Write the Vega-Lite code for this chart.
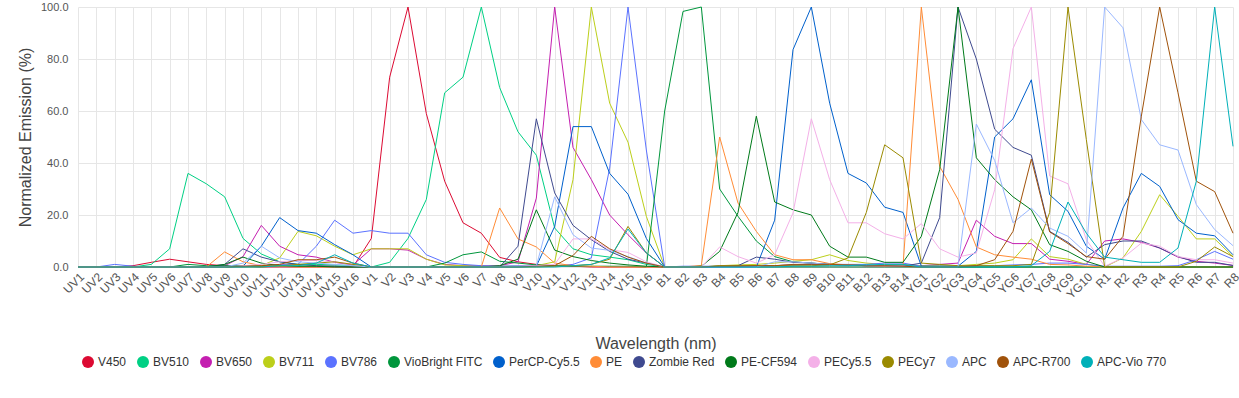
{
"$schema": "https://vega.github.io/schema/vega-lite/v6.json",
"width": 1155, "height": 260,
"autosize": "none",
"padding": {"left": 78, "top": 7, "right": 6, "bottom": 131},
"background": "white",
"config": {"view": {"stroke": null}, "font": "Liberation Sans"},
"data": {"values": [
{"c":"UV1","d":"V450","v":0},{"c":"UV2","d":"V450","v":0},{"c":"UV3","d":"V450","v":0},{"c":"UV4","d":"V450","v":0.5},{"c":"UV5","d":"V450","v":1.8},{"c":"UV6","d":"V450","v":3},{"c":"UV7","d":"V450","v":2},{"c":"UV8","d":"V450","v":1},{"c":"UV9","d":"V450","v":0.5},{"c":"UV10","d":"V450","v":0.3},{"c":"UV11","d":"V450","v":0},{"c":"UV12","d":"V450","v":0},{"c":"UV13","d":"V450","v":0},{"c":"UV14","d":"V450","v":0},{"c":"UV15","d":"V450","v":0},{"c":"UV16","d":"V450","v":0},
{"c":"V1","d":"V450","v":11},{"c":"V2","d":"V450","v":73},{"c":"V3","d":"V450","v":100},{"c":"V4","d":"V450","v":59},{"c":"V5","d":"V450","v":33},{"c":"V6","d":"V450","v":17},{"c":"V7","d":"V450","v":13},{"c":"V8","d":"V450","v":3.7},{"c":"V9","d":"V450","v":2},{"c":"V10","d":"V450","v":1},{"c":"V11","d":"V450","v":0.5},{"c":"V12","d":"V450","v":0.3},{"c":"V13","d":"V450","v":0},{"c":"V14","d":"V450","v":0},{"c":"V15","d":"V450","v":0},{"c":"V16","d":"V450","v":0},
{"c":"B1","d":"V450","v":0},{"c":"B2","d":"V450","v":0},{"c":"B3","d":"V450","v":0},{"c":"B4","d":"V450","v":0},{"c":"B5","d":"V450","v":0},{"c":"B6","d":"V450","v":0},{"c":"B7","d":"V450","v":0},{"c":"B8","d":"V450","v":0},{"c":"B9","d":"V450","v":0},{"c":"B10","d":"V450","v":0},{"c":"B11","d":"V450","v":0},{"c":"B12","d":"V450","v":0},{"c":"B13","d":"V450","v":0},{"c":"B14","d":"V450","v":0},
{"c":"YG1","d":"V450","v":0},{"c":"YG2","d":"V450","v":0},{"c":"YG3","d":"V450","v":0},{"c":"YG4","d":"V450","v":0},{"c":"YG5","d":"V450","v":0},{"c":"YG6","d":"V450","v":0},{"c":"YG7","d":"V450","v":0},{"c":"YG8","d":"V450","v":0},{"c":"YG9","d":"V450","v":0},{"c":"YG10","d":"V450","v":0},
{"c":"R1","d":"V450","v":0},{"c":"R2","d":"V450","v":0},{"c":"R3","d":"V450","v":0},{"c":"R4","d":"V450","v":0},{"c":"R5","d":"V450","v":0},{"c":"R6","d":"V450","v":0},{"c":"R7","d":"V450","v":0},{"c":"R8","d":"V450","v":0},

{"c":"UV1","d":"BV510","v":0},{"c":"UV2","d":"BV510","v":0},{"c":"UV3","d":"BV510","v":0},{"c":"UV4","d":"BV510","v":0},{"c":"UV5","d":"BV510","v":1},{"c":"UV6","d":"BV510","v":7},{"c":"UV7","d":"BV510","v":36},{"c":"UV8","d":"BV510","v":32},{"c":"UV9","d":"BV510","v":27},{"c":"UV10","d":"BV510","v":11},{"c":"UV11","d":"BV510","v":5},{"c":"UV12","d":"BV510","v":2},{"c":"UV13","d":"BV510","v":1},{"c":"UV14","d":"BV510","v":1},{"c":"UV15","d":"BV510","v":0.8},{"c":"UV16","d":"BV510","v":0.5},
{"c":"V1","d":"BV510","v":0},{"c":"V2","d":"BV510","v":1.8},{"c":"V3","d":"BV510","v":11},{"c":"V4","d":"BV510","v":26},{"c":"V5","d":"BV510","v":67},{"c":"V6","d":"BV510","v":73},{"c":"V7","d":"BV510","v":100},{"c":"V8","d":"BV510","v":69},{"c":"V9","d":"BV510","v":52},{"c":"V10","d":"BV510","v":43},{"c":"V11","d":"BV510","v":15},{"c":"V12","d":"BV510","v":7},{"c":"V13","d":"BV510","v":4.7},{"c":"V14","d":"BV510","v":3.8},{"c":"V15","d":"BV510","v":2.8},{"c":"V16","d":"BV510","v":1},
{"c":"B1","d":"BV510","v":0},{"c":"B2","d":"BV510","v":0},{"c":"B3","d":"BV510","v":0},{"c":"B4","d":"BV510","v":0},{"c":"B5","d":"BV510","v":0},{"c":"B6","d":"BV510","v":0},{"c":"B7","d":"BV510","v":0},{"c":"B8","d":"BV510","v":0},{"c":"B9","d":"BV510","v":0},{"c":"B10","d":"BV510","v":0},{"c":"B11","d":"BV510","v":0},{"c":"B12","d":"BV510","v":0},{"c":"B13","d":"BV510","v":0},{"c":"B14","d":"BV510","v":0},
{"c":"YG1","d":"BV510","v":0},{"c":"YG2","d":"BV510","v":0},{"c":"YG3","d":"BV510","v":0},{"c":"YG4","d":"BV510","v":0},{"c":"YG5","d":"BV510","v":0},{"c":"YG6","d":"BV510","v":0},{"c":"YG7","d":"BV510","v":0},{"c":"YG8","d":"BV510","v":0},{"c":"YG9","d":"BV510","v":0},{"c":"YG10","d":"BV510","v":0},
{"c":"R1","d":"BV510","v":0},{"c":"R2","d":"BV510","v":0},{"c":"R3","d":"BV510","v":0},{"c":"R4","d":"BV510","v":0},{"c":"R5","d":"BV510","v":0},{"c":"R6","d":"BV510","v":0},{"c":"R7","d":"BV510","v":0},{"c":"R8","d":"BV510","v":0},

{"c":"UV1","d":"BV650","v":0},{"c":"UV2","d":"BV650","v":0},{"c":"UV3","d":"BV650","v":0},{"c":"UV4","d":"BV650","v":0},{"c":"UV5","d":"BV650","v":0},{"c":"UV6","d":"BV650","v":0},{"c":"UV7","d":"BV650","v":0},{"c":"UV8","d":"BV650","v":0},{"c":"UV9","d":"BV650","v":0.5},{"c":"UV10","d":"BV650","v":4},{"c":"UV11","d":"BV650","v":16},{"c":"UV12","d":"BV650","v":8},{"c":"UV13","d":"BV650","v":4.7},{"c":"UV14","d":"BV650","v":3.8},{"c":"UV15","d":"BV650","v":1.8},{"c":"UV16","d":"BV650","v":0.8},
{"c":"V1","d":"BV650","v":7},{"c":"V2","d":"BV650","v":7},{"c":"V3","d":"BV650","v":6.5},{"c":"V4","d":"BV650","v":3},{"c":"V5","d":"BV650","v":1},{"c":"V6","d":"BV650","v":0.5},{"c":"V7","d":"BV650","v":0.5},{"c":"V8","d":"BV650","v":0.5},{"c":"V9","d":"BV650","v":2},{"c":"V10","d":"BV650","v":26.5},{"c":"V11","d":"BV650","v":100},{"c":"V12","d":"BV650","v":46},{"c":"V13","d":"BV650","v":33.6},{"c":"V14","d":"BV650","v":20},{"c":"V15","d":"BV650","v":12.4},{"c":"V16","d":"BV650","v":5.4},
{"c":"B1","d":"BV650","v":0},{"c":"B2","d":"BV650","v":0},{"c":"B3","d":"BV650","v":0},{"c":"B4","d":"BV650","v":0.3},{"c":"B5","d":"BV650","v":0.5},{"c":"B6","d":"BV650","v":0.5},{"c":"B7","d":"BV650","v":0.5},{"c":"B8","d":"BV650","v":0.8},{"c":"B9","d":"BV650","v":1},{"c":"B10","d":"BV650","v":1},{"c":"B11","d":"BV650","v":0.8},{"c":"B12","d":"BV650","v":0.5},{"c":"B13","d":"BV650","v":0.5},{"c":"B14","d":"BV650","v":0.3},
{"c":"YG1","d":"BV650","v":0.5},{"c":"YG2","d":"BV650","v":1},{"c":"YG3","d":"BV650","v":1.5},{"c":"YG4","d":"BV650","v":18},{"c":"YG5","d":"BV650","v":11.8},{"c":"YG6","d":"BV650","v":9},{"c":"YG7","d":"BV650","v":9},{"c":"YG8","d":"BV650","v":3},{"c":"YG9","d":"BV650","v":2.2},{"c":"YG10","d":"BV650","v":1},
{"c":"R1","d":"BV650","v":10},{"c":"R2","d":"BV650","v":10.8},{"c":"R3","d":"BV650","v":9.5},{"c":"R4","d":"BV650","v":7.3},{"c":"R5","d":"BV650","v":3.8},{"c":"R6","d":"BV650","v":2.2},{"c":"R7","d":"BV650","v":1.5},{"c":"R8","d":"BV650","v":0.6},

{"c":"UV1","d":"BV711","v":0},{"c":"UV2","d":"BV711","v":0},{"c":"UV3","d":"BV711","v":0},{"c":"UV4","d":"BV711","v":0},{"c":"UV5","d":"BV711","v":0},{"c":"UV6","d":"BV711","v":0},{"c":"UV7","d":"BV711","v":0},{"c":"UV8","d":"BV711","v":0},{"c":"UV9","d":"BV711","v":0},{"c":"UV10","d":"BV711","v":0.3},{"c":"UV11","d":"BV711","v":0.5},{"c":"UV12","d":"BV711","v":3.5},{"c":"UV13","d":"BV711","v":13.7},{"c":"UV14","d":"BV711","v":12},{"c":"UV15","d":"BV711","v":8},{"c":"UV16","d":"BV711","v":4.7},
{"c":"V1","d":"BV711","v":7},{"c":"V2","d":"BV711","v":7},{"c":"V3","d":"BV711","v":7},{"c":"V4","d":"BV711","v":3},{"c":"V5","d":"BV711","v":0.8},{"c":"V6","d":"BV711","v":0.5},{"c":"V7","d":"BV711","v":0.3},{"c":"V8","d":"BV711","v":0.3},{"c":"V9","d":"BV711","v":0.3},{"c":"V10","d":"BV711","v":0.5},{"c":"V11","d":"BV711","v":2},{"c":"V12","d":"BV711","v":33.6},{"c":"V13","d":"BV711","v":100},{"c":"V14","d":"BV711","v":63},{"c":"V15","d":"BV711","v":48},{"c":"V16","d":"BV711","v":19.5},
{"c":"B1","d":"BV711","v":0},{"c":"B2","d":"BV711","v":0},{"c":"B3","d":"BV711","v":0},{"c":"B4","d":"BV711","v":0.5},{"c":"B5","d":"BV711","v":0.8},{"c":"B6","d":"BV711","v":1},{"c":"B7","d":"BV711","v":1.5},{"c":"B8","d":"BV711","v":2.2},{"c":"B9","d":"BV711","v":2.8},{"c":"B10","d":"BV711","v":4.7},{"c":"B11","d":"BV711","v":2.5},{"c":"B12","d":"BV711","v":1.5},{"c":"B13","d":"BV711","v":1},{"c":"B14","d":"BV711","v":1},
{"c":"YG1","d":"BV711","v":0.5},{"c":"YG2","d":"BV711","v":0.5},{"c":"YG3","d":"BV711","v":0.5},{"c":"YG4","d":"BV711","v":1},{"c":"YG5","d":"BV711","v":1.5},{"c":"YG6","d":"BV711","v":2.8},{"c":"YG7","d":"BV711","v":10.8},{"c":"YG8","d":"BV711","v":4},{"c":"YG9","d":"BV711","v":3},{"c":"YG10","d":"BV711","v":1},
{"c":"R1","d":"BV711","v":0},{"c":"R2","d":"BV711","v":3.5},{"c":"R3","d":"BV711","v":13.7},{"c":"R4","d":"BV711","v":27.8},{"c":"R5","d":"BV711","v":19.5},{"c":"R6","d":"BV711","v":10.8},{"c":"R7","d":"BV711","v":10.8},{"c":"R8","d":"BV711","v":4},

{"c":"UV1","d":"BV786","v":0},{"c":"UV2","d":"BV786","v":0},{"c":"UV3","d":"BV786","v":1},{"c":"UV4","d":"BV786","v":0.3},{"c":"UV5","d":"BV786","v":0},{"c":"UV6","d":"BV786","v":0},{"c":"UV7","d":"BV786","v":0},{"c":"UV8","d":"BV786","v":0},{"c":"UV9","d":"BV786","v":0},{"c":"UV10","d":"BV786","v":0},{"c":"UV11","d":"BV786","v":0.5},{"c":"UV12","d":"BV786","v":1},{"c":"UV13","d":"BV786","v":1},{"c":"UV14","d":"BV786","v":8},{"c":"UV15","d":"BV786","v":18},{"c":"UV16","d":"BV786","v":13},
{"c":"V1","d":"BV786","v":14},{"c":"V2","d":"BV786","v":13},{"c":"V3","d":"BV786","v":13},{"c":"V4","d":"BV786","v":4.7},{"c":"V5","d":"BV786","v":1.8},{"c":"V6","d":"BV786","v":1},{"c":"V7","d":"BV786","v":0.5},{"c":"V8","d":"BV786","v":0.3},{"c":"V9","d":"BV786","v":0.5},{"c":"V10","d":"BV786","v":0.5},{"c":"V11","d":"BV786","v":0.5},{"c":"V12","d":"BV786","v":1},{"c":"V13","d":"BV786","v":3.5},{"c":"V14","d":"BV786","v":38},{"c":"V15","d":"BV786","v":100},{"c":"V16","d":"BV786","v":45},
{"c":"B1","d":"BV786","v":0},{"c":"B2","d":"BV786","v":0.3},{"c":"B3","d":"BV786","v":0.3},{"c":"B4","d":"BV786","v":0.3},{"c":"B5","d":"BV786","v":0.3},{"c":"B6","d":"BV786","v":0.5},{"c":"B7","d":"BV786","v":0.5},{"c":"B8","d":"BV786","v":0.8},{"c":"B9","d":"BV786","v":1},{"c":"B10","d":"BV786","v":1},{"c":"B11","d":"BV786","v":1},{"c":"B12","d":"BV786","v":1},{"c":"B13","d":"BV786","v":1.5},{"c":"B14","d":"BV786","v":1.5},
{"c":"YG1","d":"BV786","v":0.3},{"c":"YG2","d":"BV786","v":0.3},{"c":"YG3","d":"BV786","v":0.3},{"c":"YG4","d":"BV786","v":0.5},{"c":"YG5","d":"BV786","v":0.5},{"c":"YG6","d":"BV786","v":0.8},{"c":"YG7","d":"BV786","v":1},{"c":"YG8","d":"BV786","v":1.5},{"c":"YG9","d":"BV786","v":1.5},{"c":"YG10","d":"BV786","v":1},
{"c":"R1","d":"BV786","v":0.3},{"c":"R2","d":"BV786","v":0.3},{"c":"R3","d":"BV786","v":0.3},{"c":"R4","d":"BV786","v":0.3},{"c":"R5","d":"BV786","v":0.5},{"c":"R6","d":"BV786","v":2.8},{"c":"R7","d":"BV786","v":6},{"c":"R8","d":"BV786","v":3},

{"c":"UV1","d":"VioBright FITC","v":0},{"c":"UV2","d":"VioBright FITC","v":0},{"c":"UV3","d":"VioBright FITC","v":0},{"c":"UV4","d":"VioBright FITC","v":0},{"c":"UV5","d":"VioBright FITC","v":0},{"c":"UV6","d":"VioBright FITC","v":0},{"c":"UV7","d":"VioBright FITC","v":1},{"c":"UV8","d":"VioBright FITC","v":0.5},{"c":"UV9","d":"VioBright FITC","v":0.5},{"c":"UV10","d":"VioBright FITC","v":0.5},{"c":"UV11","d":"VioBright FITC","v":0.3},{"c":"UV12","d":"VioBright FITC","v":0.3},{"c":"UV13","d":"VioBright FITC","v":0.3},{"c":"UV14","d":"VioBright FITC","v":0.3},{"c":"UV15","d":"VioBright FITC","v":0.3},{"c":"UV16","d":"VioBright FITC","v":0},
{"c":"V1","d":"VioBright FITC","v":0},{"c":"V2","d":"VioBright FITC","v":0},{"c":"V3","d":"VioBright FITC","v":0},{"c":"V4","d":"VioBright FITC","v":0},{"c":"V5","d":"VioBright FITC","v":1.5},{"c":"V6","d":"VioBright FITC","v":4.7},{"c":"V7","d":"VioBright FITC","v":5.8},{"c":"V8","d":"VioBright FITC","v":2.2},{"c":"V9","d":"VioBright FITC","v":1.5},{"c":"V10","d":"VioBright FITC","v":0.8},{"c":"V11","d":"VioBright FITC","v":0.5},{"c":"V12","d":"VioBright FITC","v":0.3},{"c":"V13","d":"VioBright FITC","v":0.3},{"c":"V14","d":"VioBright FITC","v":0.3},{"c":"V15","d":"VioBright FITC","v":0.3},{"c":"V16","d":"VioBright FITC","v":0},
{"c":"B1","d":"VioBright FITC","v":60},{"c":"B2","d":"VioBright FITC","v":98.3},{"c":"B3","d":"VioBright FITC","v":100},{"c":"B4","d":"VioBright FITC","v":30},{"c":"B5","d":"VioBright FITC","v":19.5},{"c":"B6","d":"VioBright FITC","v":10},{"c":"B7","d":"VioBright FITC","v":4},{"c":"B8","d":"VioBright FITC","v":2},{"c":"B9","d":"VioBright FITC","v":1.5},{"c":"B10","d":"VioBright FITC","v":1},{"c":"B11","d":"VioBright FITC","v":0.8},{"c":"B12","d":"VioBright FITC","v":0.5},{"c":"B13","d":"VioBright FITC","v":0.5},{"c":"B14","d":"VioBright FITC","v":0.3},
{"c":"YG1","d":"VioBright FITC","v":0},{"c":"YG2","d":"VioBright FITC","v":0},{"c":"YG3","d":"VioBright FITC","v":0},{"c":"YG4","d":"VioBright FITC","v":0},{"c":"YG5","d":"VioBright FITC","v":0},{"c":"YG6","d":"VioBright FITC","v":0},{"c":"YG7","d":"VioBright FITC","v":0},{"c":"YG8","d":"VioBright FITC","v":0},{"c":"YG9","d":"VioBright FITC","v":0},{"c":"YG10","d":"VioBright FITC","v":0},
{"c":"R1","d":"VioBright FITC","v":0},{"c":"R2","d":"VioBright FITC","v":0},{"c":"R3","d":"VioBright FITC","v":0},{"c":"R4","d":"VioBright FITC","v":0},{"c":"R5","d":"VioBright FITC","v":0},{"c":"R6","d":"VioBright FITC","v":0},{"c":"R7","d":"VioBright FITC","v":0},{"c":"R8","d":"VioBright FITC","v":0},

{"c":"UV1","d":"PerCP-Cy5.5","v":0},{"c":"UV2","d":"PerCP-Cy5.5","v":0},{"c":"UV3","d":"PerCP-Cy5.5","v":0},{"c":"UV4","d":"PerCP-Cy5.5","v":0},{"c":"UV5","d":"PerCP-Cy5.5","v":0},{"c":"UV6","d":"PerCP-Cy5.5","v":0},{"c":"UV7","d":"PerCP-Cy5.5","v":0},{"c":"UV8","d":"PerCP-Cy5.5","v":0},{"c":"UV9","d":"PerCP-Cy5.5","v":0},{"c":"UV10","d":"PerCP-Cy5.5","v":0.3},{"c":"UV11","d":"PerCP-Cy5.5","v":8},{"c":"UV12","d":"PerCP-Cy5.5","v":19},{"c":"UV13","d":"PerCP-Cy5.5","v":14},{"c":"UV14","d":"PerCP-Cy5.5","v":13},{"c":"UV15","d":"PerCP-Cy5.5","v":8.6},{"c":"UV16","d":"PerCP-Cy5.5","v":4.7},
{"c":"V1","d":"PerCP-Cy5.5","v":0},{"c":"V2","d":"PerCP-Cy5.5","v":0},{"c":"V3","d":"PerCP-Cy5.5","v":0},{"c":"V4","d":"PerCP-Cy5.5","v":0},{"c":"V5","d":"PerCP-Cy5.5","v":0},{"c":"V6","d":"PerCP-Cy5.5","v":0},{"c":"V7","d":"PerCP-Cy5.5","v":0},{"c":"V8","d":"PerCP-Cy5.5","v":0},{"c":"V9","d":"PerCP-Cy5.5","v":0},{"c":"V10","d":"PerCP-Cy5.5","v":0.3},{"c":"V11","d":"PerCP-Cy5.5","v":15.6},{"c":"V12","d":"PerCP-Cy5.5","v":54},{"c":"V13","d":"PerCP-Cy5.5","v":54},{"c":"V14","d":"PerCP-Cy5.5","v":36},{"c":"V15","d":"PerCP-Cy5.5","v":28},{"c":"V16","d":"PerCP-Cy5.5","v":11},
{"c":"B1","d":"PerCP-Cy5.5","v":0},{"c":"B2","d":"PerCP-Cy5.5","v":0},{"c":"B3","d":"PerCP-Cy5.5","v":0},{"c":"B4","d":"PerCP-Cy5.5","v":0},{"c":"B5","d":"PerCP-Cy5.5","v":0},{"c":"B6","d":"PerCP-Cy5.5","v":0},{"c":"B7","d":"PerCP-Cy5.5","v":18},{"c":"B8","d":"PerCP-Cy5.5","v":83.6},{"c":"B9","d":"PerCP-Cy5.5","v":100},{"c":"B10","d":"PerCP-Cy5.5","v":63},{"c":"B11","d":"PerCP-Cy5.5","v":36},{"c":"B12","d":"PerCP-Cy5.5","v":32.3},{"c":"B13","d":"PerCP-Cy5.5","v":23},{"c":"B14","d":"PerCP-Cy5.5","v":21},
{"c":"YG1","d":"PerCP-Cy5.5","v":0.3},{"c":"YG2","d":"PerCP-Cy5.5","v":0.3},{"c":"YG3","d":"PerCP-Cy5.5","v":0.3},{"c":"YG4","d":"PerCP-Cy5.5","v":6},{"c":"YG5","d":"PerCP-Cy5.5","v":50},{"c":"YG6","d":"PerCP-Cy5.5","v":57},{"c":"YG7","d":"PerCP-Cy5.5","v":72},{"c":"YG8","d":"PerCP-Cy5.5","v":27.8},{"c":"YG9","d":"PerCP-Cy5.5","v":21.4},{"c":"YG10","d":"PerCP-Cy5.5","v":8},
{"c":"R1","d":"PerCP-Cy5.5","v":3},{"c":"R2","d":"PerCP-Cy5.5","v":22.7},{"c":"R3","d":"PerCP-Cy5.5","v":36},{"c":"R4","d":"PerCP-Cy5.5","v":31},{"c":"R5","d":"PerCP-Cy5.5","v":18.2},{"c":"R6","d":"PerCP-Cy5.5","v":13},{"c":"R7","d":"PerCP-Cy5.5","v":12},{"c":"R8","d":"PerCP-Cy5.5","v":4.7},

{"c":"UV1","d":"PE","v":0},{"c":"UV2","d":"PE","v":0},{"c":"UV3","d":"PE","v":0},{"c":"UV4","d":"PE","v":0},{"c":"UV5","d":"PE","v":0},{"c":"UV6","d":"PE","v":0},{"c":"UV7","d":"PE","v":0},{"c":"UV8","d":"PE","v":0},{"c":"UV9","d":"PE","v":5.8},{"c":"UV10","d":"PE","v":2},{"c":"UV11","d":"PE","v":0.5},{"c":"UV12","d":"PE","v":0.3},{"c":"UV13","d":"PE","v":0},{"c":"UV14","d":"PE","v":0},{"c":"UV15","d":"PE","v":0},{"c":"UV16","d":"PE","v":0},
{"c":"V1","d":"PE","v":0},{"c":"V2","d":"PE","v":0},{"c":"V3","d":"PE","v":0},{"c":"V4","d":"PE","v":0},{"c":"V5","d":"PE","v":0},{"c":"V6","d":"PE","v":0},{"c":"V7","d":"PE","v":0},{"c":"V8","d":"PE","v":22.7},{"c":"V9","d":"PE","v":10.8},{"c":"V10","d":"PE","v":7.7},{"c":"V11","d":"PE","v":1.5},{"c":"V12","d":"PE","v":0.5},{"c":"V13","d":"PE","v":0.3},{"c":"V14","d":"PE","v":0},{"c":"V15","d":"PE","v":0},{"c":"V16","d":"PE","v":0},
{"c":"B1","d":"PE","v":0},{"c":"B2","d":"PE","v":0},{"c":"B3","d":"PE","v":0.6},{"c":"B4","d":"PE","v":50},{"c":"B5","d":"PE","v":24.6},{"c":"B6","d":"PE","v":13.7},{"c":"B7","d":"PE","v":4.7},{"c":"B8","d":"PE","v":2.8},{"c":"B9","d":"PE","v":2.8},{"c":"B10","d":"PE","v":1.3},{"c":"B11","d":"PE","v":0.8},{"c":"B12","d":"PE","v":0.5},{"c":"B13","d":"PE","v":0.3},{"c":"B14","d":"PE","v":0.3},
{"c":"YG1","d":"PE","v":100},{"c":"YG2","d":"PE","v":38.7},{"c":"YG3","d":"PE","v":26},{"c":"YG4","d":"PE","v":7.7},{"c":"YG5","d":"PE","v":4.7},{"c":"YG6","d":"PE","v":3.8},{"c":"YG7","d":"PE","v":3},{"c":"YG8","d":"PE","v":1},{"c":"YG9","d":"PE","v":0.8},{"c":"YG10","d":"PE","v":0.3},
{"c":"R1","d":"PE","v":0},{"c":"R2","d":"PE","v":0},{"c":"R3","d":"PE","v":0},{"c":"R4","d":"PE","v":0},{"c":"R5","d":"PE","v":0},{"c":"R6","d":"PE","v":0},{"c":"R7","d":"PE","v":0},{"c":"R8","d":"PE","v":0},

{"c":"UV1","d":"Zombie Red","v":0},{"c":"UV2","d":"Zombie Red","v":0},{"c":"UV3","d":"Zombie Red","v":0},{"c":"UV4","d":"Zombie Red","v":0},{"c":"UV5","d":"Zombie Red","v":0},{"c":"UV6","d":"Zombie Red","v":0},{"c":"UV7","d":"Zombie Red","v":0},{"c":"UV8","d":"Zombie Red","v":0},{"c":"UV9","d":"Zombie Red","v":1},{"c":"UV10","d":"Zombie Red","v":7},{"c":"UV11","d":"Zombie Red","v":3.8},{"c":"UV12","d":"Zombie Red","v":2},{"c":"UV13","d":"Zombie Red","v":1},{"c":"UV14","d":"Zombie Red","v":0.5},{"c":"UV15","d":"Zombie Red","v":0.3},{"c":"UV16","d":"Zombie Red","v":0},
{"c":"V1","d":"Zombie Red","v":0},{"c":"V2","d":"Zombie Red","v":0},{"c":"V3","d":"Zombie Red","v":0},{"c":"V4","d":"Zombie Red","v":0},{"c":"V5","d":"Zombie Red","v":0},{"c":"V6","d":"Zombie Red","v":0},{"c":"V7","d":"Zombie Red","v":0},{"c":"V8","d":"Zombie Red","v":0},{"c":"V9","d":"Zombie Red","v":8},{"c":"V10","d":"Zombie Red","v":57},{"c":"V11","d":"Zombie Red","v":28.5},{"c":"V12","d":"Zombie Red","v":16},{"c":"V13","d":"Zombie Red","v":10.5},{"c":"V14","d":"Zombie Red","v":6},{"c":"V15","d":"Zombie Red","v":3},{"c":"V16","d":"Zombie Red","v":1.5},
{"c":"B1","d":"Zombie Red","v":0},{"c":"B2","d":"Zombie Red","v":0},{"c":"B3","d":"Zombie Red","v":0},{"c":"B4","d":"Zombie Red","v":0},{"c":"B5","d":"Zombie Red","v":0.5},{"c":"B6","d":"Zombie Red","v":3.8},{"c":"B7","d":"Zombie Red","v":3},{"c":"B8","d":"Zombie Red","v":1.8},{"c":"B9","d":"Zombie Red","v":1.5},{"c":"B10","d":"Zombie Red","v":1},{"c":"B11","d":"Zombie Red","v":0.8},{"c":"B12","d":"Zombie Red","v":0.5},{"c":"B13","d":"Zombie Red","v":0.5},{"c":"B14","d":"Zombie Red","v":0.3},
{"c":"YG1","d":"Zombie Red","v":1.5},{"c":"YG2","d":"Zombie Red","v":19},{"c":"YG3","d":"Zombie Red","v":100},{"c":"YG4","d":"Zombie Red","v":80},{"c":"YG5","d":"Zombie Red","v":53},{"c":"YG6","d":"Zombie Red","v":46},{"c":"YG7","d":"Zombie Red","v":43},{"c":"YG8","d":"Zombie Red","v":13.7},{"c":"YG9","d":"Zombie Red","v":9.5},{"c":"YG10","d":"Zombie Red","v":3.8},
{"c":"R1","d":"Zombie Red","v":8.6},{"c":"R2","d":"Zombie Red","v":10},{"c":"R3","d":"Zombie Red","v":10},{"c":"R4","d":"Zombie Red","v":7.3},{"c":"R5","d":"Zombie Red","v":4},{"c":"R6","d":"Zombie Red","v":1.8},{"c":"R7","d":"Zombie Red","v":1.8},{"c":"R8","d":"Zombie Red","v":0.6},

{"c":"UV1","d":"PE-CF594","v":0},{"c":"UV2","d":"PE-CF594","v":0},{"c":"UV3","d":"PE-CF594","v":0},{"c":"UV4","d":"PE-CF594","v":0},{"c":"UV5","d":"PE-CF594","v":0},{"c":"UV6","d":"PE-CF594","v":0},{"c":"UV7","d":"PE-CF594","v":0},{"c":"UV8","d":"PE-CF594","v":0},{"c":"UV9","d":"PE-CF594","v":1},{"c":"UV10","d":"PE-CF594","v":3.8},{"c":"UV11","d":"PE-CF594","v":1.5},{"c":"UV12","d":"PE-CF594","v":0.5},{"c":"UV13","d":"PE-CF594","v":0.3},{"c":"UV14","d":"PE-CF594","v":0.3},{"c":"UV15","d":"PE-CF594","v":0},{"c":"UV16","d":"PE-CF594","v":0},
{"c":"V1","d":"PE-CF594","v":0},{"c":"V2","d":"PE-CF594","v":0},{"c":"V3","d":"PE-CF594","v":0},{"c":"V4","d":"PE-CF594","v":0},{"c":"V5","d":"PE-CF594","v":0},{"c":"V6","d":"PE-CF594","v":0},{"c":"V7","d":"PE-CF594","v":0},{"c":"V8","d":"PE-CF594","v":0.5},{"c":"V9","d":"PE-CF594","v":3},{"c":"V10","d":"PE-CF594","v":22},{"c":"V11","d":"PE-CF594","v":6.5},{"c":"V12","d":"PE-CF594","v":4},{"c":"V13","d":"PE-CF594","v":2.5},{"c":"V14","d":"PE-CF594","v":1.5},{"c":"V15","d":"PE-CF594","v":0.8},{"c":"V16","d":"PE-CF594","v":0.3},
{"c":"B1","d":"PE-CF594","v":0},{"c":"B2","d":"PE-CF594","v":0},{"c":"B3","d":"PE-CF594","v":0.3},{"c":"B4","d":"PE-CF594","v":6},{"c":"B5","d":"PE-CF594","v":21},{"c":"B6","d":"PE-CF594","v":58},{"c":"B7","d":"PE-CF594","v":25},{"c":"B8","d":"PE-CF594","v":22},{"c":"B9","d":"PE-CF594","v":20},{"c":"B10","d":"PE-CF594","v":8},{"c":"B11","d":"PE-CF594","v":3.8},{"c":"B12","d":"PE-CF594","v":3.8},{"c":"B13","d":"PE-CF594","v":1.8},{"c":"B14","d":"PE-CF594","v":1.8},
{"c":"YG1","d":"PE-CF594","v":11.8},{"c":"YG2","d":"PE-CF594","v":37.4},{"c":"YG3","d":"PE-CF594","v":100},{"c":"YG4","d":"PE-CF594","v":42},{"c":"YG5","d":"PE-CF594","v":33.6},{"c":"YG6","d":"PE-CF594","v":27},{"c":"YG7","d":"PE-CF594","v":22},{"c":"YG8","d":"PE-CF594","v":8.6},{"c":"YG9","d":"PE-CF594","v":6},{"c":"YG10","d":"PE-CF594","v":2.2},
{"c":"R1","d":"PE-CF594","v":0},{"c":"R2","d":"PE-CF594","v":0},{"c":"R3","d":"PE-CF594","v":0},{"c":"R4","d":"PE-CF594","v":0},{"c":"R5","d":"PE-CF594","v":0},{"c":"R6","d":"PE-CF594","v":0},{"c":"R7","d":"PE-CF594","v":0},{"c":"R8","d":"PE-CF594","v":0},

{"c":"UV1","d":"PECy5.5","v":0},{"c":"UV2","d":"PECy5.5","v":0},{"c":"UV3","d":"PECy5.5","v":0},{"c":"UV4","d":"PECy5.5","v":0},{"c":"UV5","d":"PECy5.5","v":0},{"c":"UV6","d":"PECy5.5","v":0},{"c":"UV7","d":"PECy5.5","v":0},{"c":"UV8","d":"PECy5.5","v":0},{"c":"UV9","d":"PECy5.5","v":0},{"c":"UV10","d":"PECy5.5","v":0.5},{"c":"UV11","d":"PECy5.5","v":1},{"c":"UV12","d":"PECy5.5","v":2},{"c":"UV13","d":"PECy5.5","v":2.5},{"c":"UV14","d":"PECy5.5","v":2.5},{"c":"UV15","d":"PECy5.5","v":2},{"c":"UV16","d":"PECy5.5","v":1},
{"c":"V1","d":"PECy5.5","v":0},{"c":"V2","d":"PECy5.5","v":0},{"c":"V3","d":"PECy5.5","v":0},{"c":"V4","d":"PECy5.5","v":0},{"c":"V5","d":"PECy5.5","v":0},{"c":"V6","d":"PECy5.5","v":0},{"c":"V7","d":"PECy5.5","v":0},{"c":"V8","d":"PECy5.5","v":0},{"c":"V9","d":"PECy5.5","v":0.3},{"c":"V10","d":"PECy5.5","v":0.5},{"c":"V11","d":"PECy5.5","v":1},{"c":"V12","d":"PECy5.5","v":10.8},{"c":"V13","d":"PECy5.5","v":10.8},{"c":"V14","d":"PECy5.5","v":6.7},{"c":"V15","d":"PECy5.5","v":5.6},{"c":"V16","d":"PECy5.5","v":2},
{"c":"B1","d":"PECy5.5","v":0},{"c":"B2","d":"PECy5.5","v":0},{"c":"B3","d":"PECy5.5","v":0},{"c":"B4","d":"PECy5.5","v":7.7},{"c":"B5","d":"PECy5.5","v":4},{"c":"B6","d":"PECy5.5","v":1.5},{"c":"B7","d":"PECy5.5","v":4.7},{"c":"B8","d":"PECy5.5","v":20.8},{"c":"B9","d":"PECy5.5","v":57},{"c":"B10","d":"PECy5.5","v":33.6},{"c":"B11","d":"PECy5.5","v":17},{"c":"B12","d":"PECy5.5","v":17},{"c":"B13","d":"PECy5.5","v":12.8},{"c":"B14","d":"PECy5.5","v":10.8},
{"c":"YG1","d":"PECy5.5","v":16.7},{"c":"YG2","d":"PECy5.5","v":7},{"c":"YG3","d":"PECy5.5","v":3.8},{"c":"YG4","d":"PECy5.5","v":5.4},{"c":"YG5","d":"PECy5.5","v":29.7},{"c":"YG6","d":"PECy5.5","v":84},{"c":"YG7","d":"PECy5.5","v":100},{"c":"YG8","d":"PECy5.5","v":35},{"c":"YG9","d":"PECy5.5","v":32},{"c":"YG10","d":"PECy5.5","v":10.5},
{"c":"R1","d":"PECy5.5","v":0.3},{"c":"R2","d":"PECy5.5","v":3.5},{"c":"R3","d":"PECy5.5","v":9.2},{"c":"R4","d":"PECy5.5","v":8},{"c":"R5","d":"PECy5.5","v":4},{"c":"R6","d":"PECy5.5","v":2.8},{"c":"R7","d":"PECy5.5","v":2.8},{"c":"R8","d":"PECy5.5","v":1.5},

{"c":"UV1","d":"PECy7","v":0},{"c":"UV2","d":"PECy7","v":0},{"c":"UV3","d":"PECy7","v":0},{"c":"UV4","d":"PECy7","v":0},{"c":"UV5","d":"PECy7","v":0},{"c":"UV6","d":"PECy7","v":0},{"c":"UV7","d":"PECy7","v":0},{"c":"UV8","d":"PECy7","v":0},{"c":"UV9","d":"PECy7","v":0},{"c":"UV10","d":"PECy7","v":0},{"c":"UV11","d":"PECy7","v":0},{"c":"UV12","d":"PECy7","v":0.5},{"c":"UV13","d":"PECy7","v":1},{"c":"UV14","d":"PECy7","v":1.5},{"c":"UV15","d":"PECy7","v":2},{"c":"UV16","d":"PECy7","v":1},
{"c":"V1","d":"PECy7","v":0},{"c":"V2","d":"PECy7","v":0},{"c":"V3","d":"PECy7","v":0},{"c":"V4","d":"PECy7","v":0},{"c":"V5","d":"PECy7","v":0},{"c":"V6","d":"PECy7","v":0},{"c":"V7","d":"PECy7","v":0},{"c":"V8","d":"PECy7","v":0},{"c":"V9","d":"PECy7","v":0},{"c":"V10","d":"PECy7","v":0},{"c":"V11","d":"PECy7","v":0.3},{"c":"V12","d":"PECy7","v":0.5},{"c":"V13","d":"PECy7","v":1},{"c":"V14","d":"PECy7","v":3},{"c":"V15","d":"PECy7","v":15.6},{"c":"V16","d":"PECy7","v":5.4},
{"c":"B1","d":"PECy7","v":0},{"c":"B2","d":"PECy7","v":0},{"c":"B3","d":"PECy7","v":0},{"c":"B4","d":"PECy7","v":0.5},{"c":"B5","d":"PECy7","v":0.5},{"c":"B6","d":"PECy7","v":0.5},{"c":"B7","d":"PECy7","v":0.5},{"c":"B8","d":"PECy7","v":0.5},{"c":"B9","d":"PECy7","v":0.5},{"c":"B10","d":"PECy7","v":0.8},{"c":"B11","d":"PECy7","v":3.5},{"c":"B12","d":"PECy7","v":21},{"c":"B13","d":"PECy7","v":47},{"c":"B14","d":"PECy7","v":42},
{"c":"YG1","d":"PECy7","v":1.5},{"c":"YG2","d":"PECy7","v":1},{"c":"YG3","d":"PECy7","v":0.5},{"c":"YG4","d":"PECy7","v":0.5},{"c":"YG5","d":"PECy7","v":0.5},{"c":"YG6","d":"PECy7","v":0.5},{"c":"YG7","d":"PECy7","v":1},{"c":"YG8","d":"PECy7","v":21},{"c":"YG9","d":"PECy7","v":100},{"c":"YG10","d":"PECy7","v":49},
{"c":"R1","d":"PECy7","v":0},{"c":"R2","d":"PECy7","v":0},{"c":"R3","d":"PECy7","v":0},{"c":"R4","d":"PECy7","v":0},{"c":"R5","d":"PECy7","v":0},{"c":"R6","d":"PECy7","v":2.2},{"c":"R7","d":"PECy7","v":7.7},{"c":"R8","d":"PECy7","v":4},

{"c":"UV1","d":"APC","v":0},{"c":"UV2","d":"APC","v":0},{"c":"UV3","d":"APC","v":0},{"c":"UV4","d":"APC","v":0},{"c":"UV5","d":"APC","v":0},{"c":"UV6","d":"APC","v":0},{"c":"UV7","d":"APC","v":0},{"c":"UV8","d":"APC","v":0},{"c":"UV9","d":"APC","v":0},{"c":"UV10","d":"APC","v":1.5},{"c":"UV11","d":"APC","v":8},{"c":"UV12","d":"APC","v":3.5},{"c":"UV13","d":"APC","v":2},{"c":"UV14","d":"APC","v":1.5},{"c":"UV15","d":"APC","v":1},{"c":"UV16","d":"APC","v":0.5},
{"c":"V1","d":"APC","v":0},{"c":"V2","d":"APC","v":0},{"c":"V3","d":"APC","v":0},{"c":"V4","d":"APC","v":0},{"c":"V5","d":"APC","v":0},{"c":"V6","d":"APC","v":0},{"c":"V7","d":"APC","v":0},{"c":"V8","d":"APC","v":0},{"c":"V9","d":"APC","v":0},{"c":"V10","d":"APC","v":0.3},{"c":"V11","d":"APC","v":27},{"c":"V12","d":"APC","v":12.4},{"c":"V13","d":"APC","v":7.3},{"c":"V14","d":"APC","v":6.4},{"c":"V15","d":"APC","v":4},{"c":"V16","d":"APC","v":1.5},
{"c":"B1","d":"APC","v":0},{"c":"B2","d":"APC","v":0},{"c":"B3","d":"APC","v":0},{"c":"B4","d":"APC","v":0},{"c":"B5","d":"APC","v":0},{"c":"B6","d":"APC","v":0},{"c":"B7","d":"APC","v":2},{"c":"B8","d":"APC","v":2},{"c":"B9","d":"APC","v":1.5},{"c":"B10","d":"APC","v":1},{"c":"B11","d":"APC","v":0.8},{"c":"B12","d":"APC","v":0.5},{"c":"B13","d":"APC","v":0.5},{"c":"B14","d":"APC","v":0.3},
{"c":"YG1","d":"APC","v":0},{"c":"YG2","d":"APC","v":0},{"c":"YG3","d":"APC","v":0},{"c":"YG4","d":"APC","v":55},{"c":"YG5","d":"APC","v":41},{"c":"YG6","d":"APC","v":17},{"c":"YG7","d":"APC","v":22.7},{"c":"YG8","d":"APC","v":15},{"c":"YG9","d":"APC","v":11.8},{"c":"YG10","d":"APC","v":5.4},
{"c":"R1","d":"APC","v":100},{"c":"R2","d":"APC","v":92},{"c":"R3","d":"APC","v":56.7},{"c":"R4","d":"APC","v":47},{"c":"R5","d":"APC","v":45},{"c":"R6","d":"APC","v":24},{"c":"R7","d":"APC","v":14.4},{"c":"R8","d":"APC","v":8.2},

{"c":"UV1","d":"APC-R700","v":0},{"c":"UV2","d":"APC-R700","v":0},{"c":"UV3","d":"APC-R700","v":0},{"c":"UV4","d":"APC-R700","v":0},{"c":"UV5","d":"APC-R700","v":0},{"c":"UV6","d":"APC-R700","v":0},{"c":"UV7","d":"APC-R700","v":0},{"c":"UV8","d":"APC-R700","v":0},{"c":"UV9","d":"APC-R700","v":0},{"c":"UV10","d":"APC-R700","v":0.3},{"c":"UV11","d":"APC-R700","v":0.5},{"c":"UV12","d":"APC-R700","v":1},{"c":"UV13","d":"APC-R700","v":2.8},{"c":"UV14","d":"APC-R700","v":2.8},{"c":"UV15","d":"APC-R700","v":3.8},{"c":"UV16","d":"APC-R700","v":1.5},
{"c":"V1","d":"APC-R700","v":0},{"c":"V2","d":"APC-R700","v":0},{"c":"V3","d":"APC-R700","v":0},{"c":"V4","d":"APC-R700","v":0},{"c":"V5","d":"APC-R700","v":0},{"c":"V6","d":"APC-R700","v":0},{"c":"V7","d":"APC-R700","v":0},{"c":"V8","d":"APC-R700","v":0},{"c":"V9","d":"APC-R700","v":0},{"c":"V10","d":"APC-R700","v":0.3},{"c":"V11","d":"APC-R700","v":0.5},{"c":"V12","d":"APC-R700","v":4.4},{"c":"V13","d":"APC-R700","v":11.8},{"c":"V14","d":"APC-R700","v":7},{"c":"V15","d":"APC-R700","v":3.8},{"c":"V16","d":"APC-R700","v":1.5},
{"c":"B1","d":"APC-R700","v":0},{"c":"B2","d":"APC-R700","v":0},{"c":"B3","d":"APC-R700","v":0},{"c":"B4","d":"APC-R700","v":0.3},{"c":"B5","d":"APC-R700","v":0.3},{"c":"B6","d":"APC-R700","v":0.5},{"c":"B7","d":"APC-R700","v":0.5},{"c":"B8","d":"APC-R700","v":1},{"c":"B9","d":"APC-R700","v":1},{"c":"B10","d":"APC-R700","v":1},{"c":"B11","d":"APC-R700","v":0.8},{"c":"B12","d":"APC-R700","v":0.5},{"c":"B13","d":"APC-R700","v":0.5},{"c":"B14","d":"APC-R700","v":0.3},
{"c":"YG1","d":"APC-R700","v":0},{"c":"YG2","d":"APC-R700","v":0},{"c":"YG3","d":"APC-R700","v":0},{"c":"YG4","d":"APC-R700","v":0.5},{"c":"YG5","d":"APC-R700","v":2.8},{"c":"YG6","d":"APC-R700","v":13.7},{"c":"YG7","d":"APC-R700","v":41.5},{"c":"YG8","d":"APC-R700","v":13.5},{"c":"YG9","d":"APC-R700","v":9},{"c":"YG10","d":"APC-R700","v":4},
{"c":"R1","d":"APC-R700","v":3},{"c":"R2","d":"APC-R700","v":11.8},{"c":"R3","d":"APC-R700","v":58},{"c":"R4","d":"APC-R700","v":100},{"c":"R5","d":"APC-R700","v":67},{"c":"R6","d":"APC-R700","v":33},{"c":"R7","d":"APC-R700","v":29},{"c":"R8","d":"APC-R700","v":13},

{"c":"UV1","d":"APC-Vio 770","v":0},{"c":"UV2","d":"APC-Vio 770","v":0},{"c":"UV3","d":"APC-Vio 770","v":0},{"c":"UV4","d":"APC-Vio 770","v":0},{"c":"UV5","d":"APC-Vio 770","v":0},{"c":"UV6","d":"APC-Vio 770","v":0},{"c":"UV7","d":"APC-Vio 770","v":0},{"c":"UV8","d":"APC-Vio 770","v":0},{"c":"UV9","d":"APC-Vio 770","v":0},{"c":"UV10","d":"APC-Vio 770","v":0},{"c":"UV11","d":"APC-Vio 770","v":0},{"c":"UV12","d":"APC-Vio 770","v":0.5},{"c":"UV13","d":"APC-Vio 770","v":0.5},{"c":"UV14","d":"APC-Vio 770","v":1.5},{"c":"UV15","d":"APC-Vio 770","v":4.7},{"c":"UV16","d":"APC-Vio 770","v":1.5},
{"c":"V1","d":"APC-Vio 770","v":0},{"c":"V2","d":"APC-Vio 770","v":0},{"c":"V3","d":"APC-Vio 770","v":0},{"c":"V4","d":"APC-Vio 770","v":0},{"c":"V5","d":"APC-Vio 770","v":0},{"c":"V6","d":"APC-Vio 770","v":0},{"c":"V7","d":"APC-Vio 770","v":0},{"c":"V8","d":"APC-Vio 770","v":0},{"c":"V9","d":"APC-Vio 770","v":0},{"c":"V10","d":"APC-Vio 770","v":0},{"c":"V11","d":"APC-Vio 770","v":0},{"c":"V12","d":"APC-Vio 770","v":0.5},{"c":"V13","d":"APC-Vio 770","v":1},{"c":"V14","d":"APC-Vio 770","v":3.5},{"c":"V15","d":"APC-Vio 770","v":14.6},{"c":"V16","d":"APC-Vio 770","v":5.4},
{"c":"B1","d":"APC-Vio 770","v":0},{"c":"B2","d":"APC-Vio 770","v":0},{"c":"B3","d":"APC-Vio 770","v":0},{"c":"B4","d":"APC-Vio 770","v":0},{"c":"B5","d":"APC-Vio 770","v":0},{"c":"B6","d":"APC-Vio 770","v":0},{"c":"B7","d":"APC-Vio 770","v":0},{"c":"B8","d":"APC-Vio 770","v":0.3},{"c":"B9","d":"APC-Vio 770","v":0.3},{"c":"B10","d":"APC-Vio 770","v":0.5},{"c":"B11","d":"APC-Vio 770","v":0.5},{"c":"B12","d":"APC-Vio 770","v":0.8},{"c":"B13","d":"APC-Vio 770","v":1},{"c":"B14","d":"APC-Vio 770","v":1},
{"c":"YG1","d":"APC-Vio 770","v":0},{"c":"YG2","d":"APC-Vio 770","v":0},{"c":"YG3","d":"APC-Vio 770","v":0},{"c":"YG4","d":"APC-Vio 770","v":0},{"c":"YG5","d":"APC-Vio 770","v":0},{"c":"YG6","d":"APC-Vio 770","v":0},{"c":"YG7","d":"APC-Vio 770","v":0.5},{"c":"YG8","d":"APC-Vio 770","v":6},{"c":"YG9","d":"APC-Vio 770","v":25},{"c":"YG10","d":"APC-Vio 770","v":13},
{"c":"R1","d":"APC-Vio 770","v":3.8},{"c":"R2","d":"APC-Vio 770","v":2.8},{"c":"R3","d":"APC-Vio 770","v":1.8},{"c":"R4","d":"APC-Vio 770","v":1.8},{"c":"R5","d":"APC-Vio 770","v":7.3},{"c":"R6","d":"APC-Vio 770","v":33},{"c":"R7","d":"APC-Vio 770","v":100},{"c":"R8","d":"APC-Vio 770","v":46.4}
]},
"mark": {"type": "line", "strokeWidth": 1, "interpolate": "linear"},
"encoding": {
"x": {"field": "c", "type": "ordinal",
 "scale": {"type": "point", "padding": 0, "domain": ["UV1","UV2","UV3","UV4","UV5","UV6","UV7","UV8","UV9","UV10","UV11","UV12","UV13","UV14","UV15","UV16","V1","V2","V3","V4","V5","V6","V7","V8","V9","V10","V11","V12","V13","V14","V15","V16","B1","B2","B3","B4","B5","B6","B7","B8","B9","B10","B11","B12","B13","B14","YG1","YG2","YG3","YG4","YG5","YG6","YG7","YG8","YG9","YG10","R1","R2","R3","R4","R5","R6","R7","R8"]},
 "axis": {"title": "Wavelength (nm)", "labelAngle": -45, "labelFontSize": 12, "labelColor": "#555", "grid": true, "gridColor": "#e6e6e6", "domain": false, "ticks": false, "labelPadding": 4, "titleFontSize": 16, "titleFontWeight": "normal", "titleColor": "#444", "titleY": 76, "titleBaseline": "middle"}},
"y": {"field": "v", "type": "quantitative",
 "scale": {"domain": [0, 100], "nice": false},
 "axis": {"title": "Normalized Emission (%)", "values": [0, 20, 40, 60, 80, 100], "format": ".1f", "labelFontSize": 11, "labelColor": "#555", "grid": true, "gridColor": "#e6e6e6", "domain": false, "ticks": false, "labelPadding": 10, "titleFontSize": 16, "titleFontWeight": "normal", "titleColor": "#444", "titleX": -53, "titleBaseline": "middle"}},
"color": {"field": "d", "type": "nominal",
 "scale": {"domain": ["V450","BV510","BV650","BV711","BV786","VioBright FITC","PerCP-Cy5.5","PE","Zombie Red","PE-CF594","PECy5.5","PECy7","APC","APC-R700","APC-Vio 770"],
  "range": ["#dc0a32","#00d084","#c41fb0","#bccf1a","#5b72ff","#00963c","#0060cc","#ff8c36","#3f4a8f","#007a1a","#f4b0e8","#9a8a00","#9ab8ff","#a0520a","#00b0b8"]},
 "legend": {"orient": "none", "legendX": 4, "legendY": 349, "direction": "horizontal", "title": null, "symbolType": "circle", "symbolSize": 144, "symbolStrokeWidth": 0, "symbolOpacity": 1, "labelFontSize": 12, "labelColor": "#333", "columnPadding": 10, "labelOffset": 4,
  "encode": {"symbols": {"update": {"fill": {"scale": "color", "field": "value"}, "fillOpacity": {"value": 1}, "strokeWidth": {"value": 0}}}}}}
}
}
